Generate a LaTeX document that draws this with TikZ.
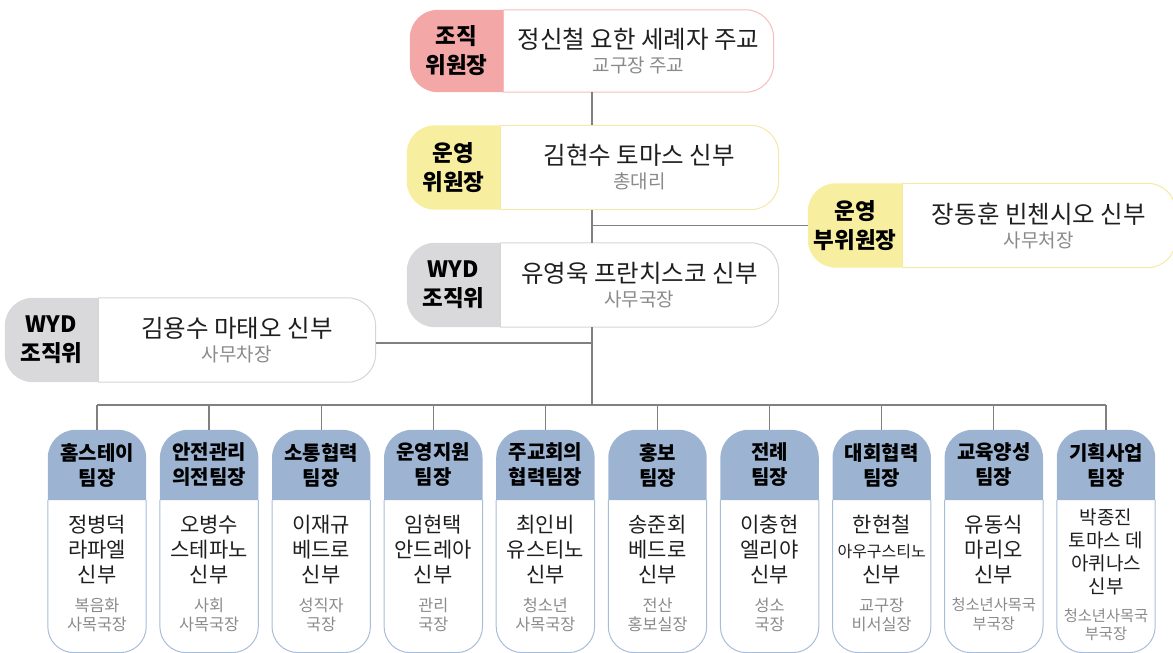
\documentclass[tikz,border=0pt]{standalone}
\usepackage{fontspec}
\setmainfont{Noto Sans CJK KR}
\usetikzlibrary{positioning,backgrounds}

\definecolor{rolepink}{HTML}{F3A7A6}
\definecolor{linepink}{HTML}{F5BDBC}
\definecolor{roleyellow}{HTML}{F8EE9F}
\definecolor{lineyellow}{HTML}{F4E9A6}
\definecolor{rolegray}{HTML}{D9D9DB}
\definecolor{linegray}{HTML}{D5D5D8}
\definecolor{teamblue}{HTML}{9CB4D2}
\definecolor{lineblue}{HTML}{A8BDD9}
\definecolor{subgray}{HTML}{8A8A8A}
\definecolor{linkgray}{HTML}{808080}

\newcommand\subtxt{\fontsize{19}{21}\selectfont\color{subgray}}
\newcommand\smtxt{\fontsize{15.3}{18}\selectfont}

\tikzset{
        role/.style={minimum width=93pt, minimum height=84pt, inner sep=0pt, align=center,
                font=\bfseries\fontsize{22.5}{29}\selectfont},
        person/.style={minimum height=84pt, inner sep=0pt, align=center, text=black!88,
                font=\fontsize{24.5}{24}\selectfont},
        teamhead/.style={minimum width=98pt, minimum height=70pt, inner sep=0pt, align=center,
                font=\bfseries\fontsize{20}{25}\selectfont},
        teambody/.style={minimum width=98pt, minimum height=152pt, inner sep=0pt},
        teamname/.style={inner sep=0pt, align=center, text=black!88, font=\fontsize{21}{25}\selectfont},
        teamsub/.style={inner sep=0pt, align=center, text=subgray, font=\fontsize{16.3}{19}\selectfont},
        link/.style={draw=linkgray, line width=1.3pt}
}

\begin{document}
\begin{tikzpicture}[x=1pt, y=1pt]
        \useasboundingbox (0,0) rectangle (1173,-653);

        % committee
        \node[role, minimum height=82pt] (r1) at (456.5,-51) {조직\\위원장};
        \node[person, minimum height=82pt, minimum width=270pt, right=0pt of r1] (n1) {정신철 요한 세례자 주교\\\subtxt 교구장 주교};
        \node[role] (r2) at (453.5,-167.5) {운영\\위원장};
        \node[person, minimum width=278pt, right=0pt of r2] (n2) {김현수 토마스 신부\\\subtxt 총대리};
        \node[role] (r3) at (453.5,-285) {WYD\\조직위};
        \node[person, minimum width=278pt, right=0pt of r3] (n3) {유영욱 프란치스코 신부\\\subtxt 사무국장};
        \node[role, minimum width=94pt] (r4) at (855,-225.5) {운영\\부위원장};
        \node[person, minimum width=273pt, right=0pt of r4] (n4) {장동훈 빈첸시오 신부\\\subtxt 사무처장};
        \node[role] (r5) at (51.5,-340) {WYD\\조직위};
        \node[person, minimum width=277pt, right=0pt of r5] (n5) {김용수 마태오 신부\\\subtxt 사무차장};

        \coordinate (bus) at (592,-405);
        \draw[link] (n1.south -| bus) -- (n2.north -| bus);
        \draw[link] (n2.south -| bus) -- (n3.north -| bus);
        \draw[link] (n3.south -| bus) -- (bus);
        \draw[link] (r4.west -| bus) -- (r4.west);
        \draw[link] ([yshift=-3pt]n5.east) -- ([yshift=-3pt]n5.east -| bus);

        % teams
        \foreach \i/\head/\names/\subs in {
                1/{홈스테이\\팀장}/{정병덕\\라파엘\\신부}/{복음화\\사목국장},
                2/{안전관리\\의전팀장}/{오병수\\스테파노\\신부}/{사회\\사목국장},
                3/{소통협력\\팀장}/{이재규\\베드로\\신부}/{성직자\\국장},
                4/{운영지원\\팀장}/{임현택\\안드레아\\신부}/{관리\\국장},
                5/{주교회의\\협력팀장}/{최인비\\유스티노\\신부}/{청소년\\사목국장},
                6/{홍보\\팀장}/{송준회\\베드로\\신부}/{전산\\홍보실장},
                7/{전례\\팀장}/{이충현\\엘리야\\신부}/{성소\\국장},
                8/{대회협력\\팀장}/{한현철\\{\fontsize{16}{20}\selectfont 아우구스티노}\\신부}/{교구장\\비서실장},
                9/{교육양성\\팀장}/{유동식\\마리오\\신부}/{\smtxt 청소년사목국\\\smtxt 부국장}}
        {
                \node[teamhead] (h\i) at ({97+112.1*(\i-1)},-465) {\head};
                \node[teambody, below=0pt of h\i] (b\i) {};
                \node[teamname, below=15pt of h\i] (m\i) {\names};
                \node[teamsub, below=13pt of m\i] (s\i) {\subs};
                \draw[link] (h\i.north |- bus) -- (h\i.north);
        }
        \node[teamhead] (h10) at (1106,-465) {기획사업\\팀장};
        \node[teambody, below=0pt of h10] (b10) {};
        \node[teamname, font=\fontsize{19}{23}\selectfont, below=8pt of h10] (m10) {박종진\\토마스 데\\아퀴나스\\신부};
        \node[teamsub, font=\smtxt, below=14pt of m10] (s10) {청소년사목국\\부국장};
        \draw[link] (h10.north |- bus) -- (h10.north);
        \draw[link] (h1.north |- bus) -- (h10.north |- bus);

        \begin{scope}[on background layer]
                \foreach \r/\n/\c in {r1/n1/pink, r2/n2/yellow, r3/n3/gray, r4/n4/yellow, r5/n5/gray} {
                        \fill[role\c, rounded corners=28pt] (\r.north east) -- (\r.north west) -- (\r.south west) -- (\r.south east);
                        \draw[line\c, line width=1pt, rounded corners=28pt] (\n.north west) -- (\n.north east) -- (\n.south east) -- (\n.south west);
                        \draw[line\c, line width=1pt] (\n.north west) -- (\n.south west);
                }
                \foreach \i in {1,...,10} {
                        \fill[teamblue, rounded corners=28pt] (h\i.south west) -- (h\i.north west) -- (h\i.north east) -- (h\i.south east);
                        \draw[lineblue, line width=1pt, rounded corners=26pt] (b\i.north west) -- (b\i.south west) -- (b\i.south east) -- (b\i.north east);
                }
        \end{scope}
\end{tikzpicture}
\end{document}
